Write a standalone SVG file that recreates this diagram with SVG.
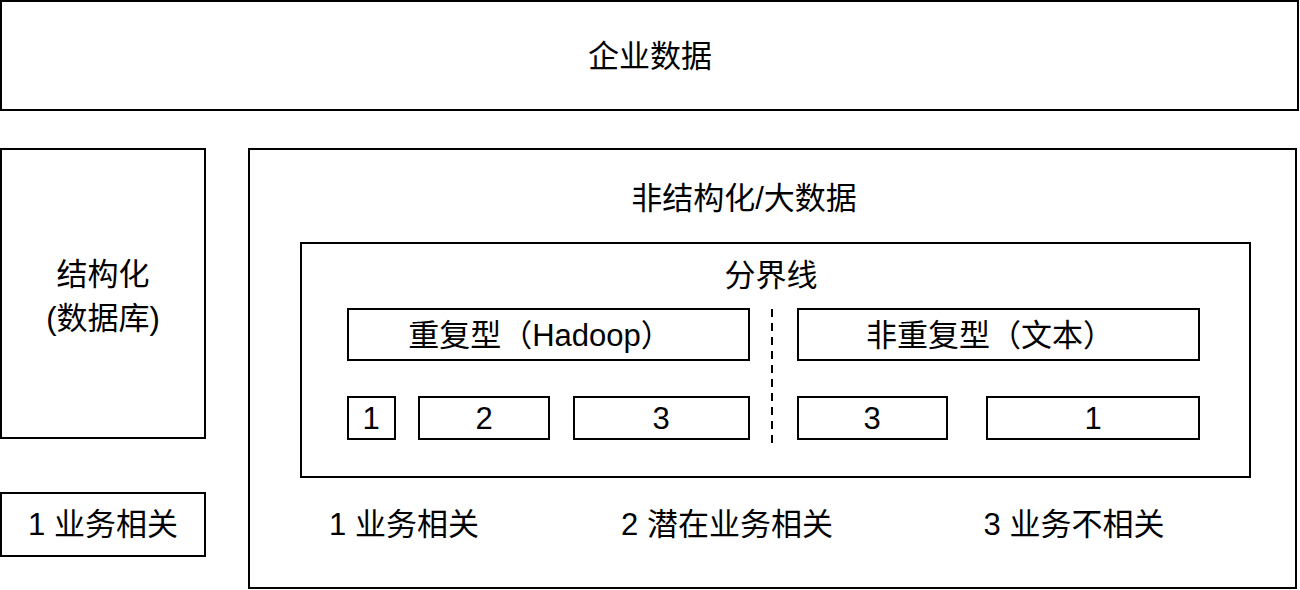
<svg xmlns="http://www.w3.org/2000/svg" width="1300" height="590" viewBox="0 0 1300 590">
<style>
rect{fill:#fff;stroke:#000;stroke-width:2}
text{font-family:"Liberation Sans","Noto Sans CJK SC",sans-serif;font-size:31px;fill:#000;text-anchor:middle;dominant-baseline:central}
.dash{stroke:#000;stroke-width:2;stroke-dasharray:8 6;fill:none}
</style>
<rect x="0" y="0" width="1300" height="590" style="stroke:none"/>
<g id="enterprise"><rect x="1" y="1" width="1297" height="109"/><text x="650" y="56">企业数据</text></g>
<g id="structured"><rect x="1" y="149" width="204" height="289"/><text x="103" y="274">结构化</text><text x="103" y="318">(数据库)</text></g>
<g id="legend-left"><rect x="1" y="493" width="204" height="63"/><text x="103" y="524">1 业务相关</text></g>
<g id="unstructured"><rect x="249" y="149" width="1047" height="439"/><text x="744" y="198">非结构化/大数据</text></g>
<g id="boundary"><rect x="301" y="243" width="949" height="234"/><text x="771" y="275">分界线</text></g>
<g id="repetitive"><rect x="348" y="309" width="401" height="51"/><text x="540" y="335">重复型（Hadoop）</text></g>
<g id="nonrepetitive"><rect x="798" y="309" width="401" height="51"/><text x="990" y="335">非重复型（文本）</text></g>
<g id="r1"><rect x="348" y="397" width="47" height="42"/><text x="371" y="418">1</text></g>
<g id="r2"><rect x="419" y="397" width="130" height="42"/><text x="484" y="418">2</text></g>
<g id="r3"><rect x="574" y="397" width="175" height="42"/><text x="661" y="418">3</text></g>
<g id="n3"><rect x="798" y="397" width="149" height="42"/><text x="872" y="418">3</text></g>
<g id="n1"><rect x="987" y="397" width="212" height="42"/><text x="1093" y="418">1</text></g>
<g id="labels"><text x="404" y="524">1 业务相关</text><text x="727" y="524">2 潜在业务相关</text><text x="1074" y="524">3 业务不相关</text></g>
<g id="connectors"><line class="dash" x1="772" y1="309" x2="772" y2="446"/></g>
</svg>
